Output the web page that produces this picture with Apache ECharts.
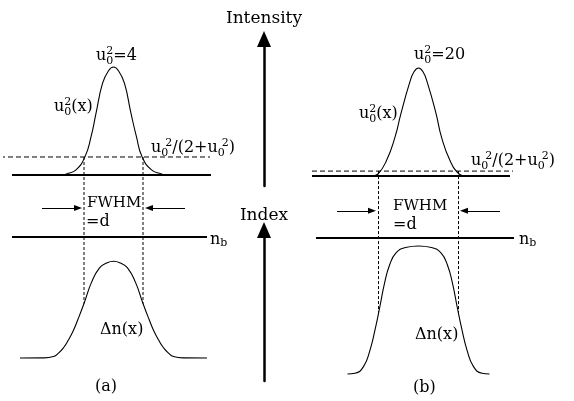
<!DOCTYPE html>
<html>
<head>
<meta charset="utf-8">
<script src="https://cdn.jsdelivr.net/npm/echarts@6/dist/echarts.min.js"></script>
<style>
  html, body { margin: 0; padding: 0; background: #fff; }
  #chart { width: 574px; height: 401px; }
</style>
</head>
<body>
<div id="chart"></div>
<script>
// Transverse position x (arbitrary units) paired with the quantity on each panel.
// (a) beam intensity u0^2(x) for peak u0^2 = 4
const intensityA = [
  [-5.0, 0], [-4.7, 0.04], [-3.75, 0.19], [-2.85, 0.68], [-2.25, 1.41], [-1.75, 2.28],
  [-1.1, 3.39], [-0.5, 3.86], [0, 4], [0.5, 3.86], [1.1, 3.39], [1.75, 2.28],
  [2.3, 1.41], [2.85, 0.68], [3.8, 0.19], [4.8, 0.04], [5.1, 0]
];
// (a) induced index change Δn(x), background index n_b = 1
const indexA = [
  [-9.35, 0], [-7, 0.001], [-6, 0.012], [-5.5, 0.04], [-5, 0.085], [-4.5, 0.15],
  [-4, 0.23], [-3.55, 0.32], [-2.95, 0.45], [-2.2, 0.625], [-1.4, 0.745], [-0.7, 0.785],
  [0, 0.8], [0.7, 0.785], [1.4, 0.745], [2.2, 0.625], [2.95, 0.45], [3.55, 0.32],
  [4, 0.23], [4.5, 0.15], [5, 0.085], [5.5, 0.04], [6, 0.012], [7, 0.001], [9.35, 0]
];
// (b) beam intensity u0^2(x) for peak u0^2 = 20
const intensityB = [
  [-4.6, 0], [-4.05, 0.37], [-3.2, 2.86], [-2.35, 7.2], [-1.75, 11.6], [-0.9, 17.2],
  [-0.45, 19.3], [0, 20], [0.45, 19.3], [0.9, 17.2], [1.75, 11.6], [2.3, 7.2],
  [3.15, 2.86], [4.05, 0.37], [4.6, 0]
];
// (b) induced index change Δn(x): saturated, flat-topped profile
const indexB = [
  [-7.1, 0], [-6.35, 0.005], [-5.5, 0.054], [-4.85, 0.176], [-4.35, 0.324], [-3.85, 0.5],
  [-3.4, 0.667], [-2.9, 0.8], [-2.25, 0.89], [-1.3, 0.93], [0, 0.941], [1.3, 0.93],
  [2.25, 0.89], [2.9, 0.8], [3.4, 0.667], [3.85, 0.5], [4.35, 0.324], [4.85, 0.176],
  [5.5, 0.054], [6.35, 0.005], [7.1, 0]
];
// Threshold level u0^2/(2+u0^2) for each peak intensity
const thresholdA = [0.667];
const thresholdB = [0.909];
// Background index
const backgroundIndex = [1];
// FWHM edges of Δn(x) and the half-maximum index value there
const fwhmEdgesA = [-2.95, 2.95];
const fwhmEdgesB = [-4.0, 4.0];
const halfIndex = [0.45, 0.45];

const FONT = 'DejaVu Serif';
const INK = '#000';

const el = document.getElementById('chart');
const chart = echarts.init(el, null, { renderer: 'canvas' });

function flat(y, x0, x1) { return [[x0, y], [x1, y]]; }

function curve(name, data, g, width) {
  return {
    name, type: 'line', xAxisIndex: g, yAxisIndex: g, data,
    smooth: 0.5, symbol: 'none', clip: false, silent: true,
    lineStyle: { color: INK, width: width || 1.1 }
  };
}
function rule(name, data, g, width, dash) {
  return {
    name, type: 'line', xAxisIndex: g, yAxisIndex: g, data,
    symbol: 'none', clip: false, silent: true,
    lineStyle: { color: INK, width, type: dash || 'solid' }
  };
}
// FWHM pointers: short lines with a small arrowhead toward the profile edge
function arrows(y, pairs) {
  return {
    silent: true, symbol: ['none', 'triangle'], symbolSize: [6, 8],
    label: { show: false },
    lineStyle: { color: INK, width: 1, type: 'solid' },
    itemStyle: { color: INK },
    emphasis: { disabled: true },
    data: pairs.map(p => [{ coord: [p[0], y] }, { coord: [p[1], y] }])
  };
}

const hiddenX = (min, max) => ({ type: 'value', min, max, show: false });
const hiddenY = (min, max) => ({ type: 'value', min, max, show: false });

function arrowAxis(name, gap) {
  return {
    type: 'value', min: 0, max: 1, position: 'left',
    name, nameLocation: 'end', nameGap: gap,
    nameTextStyle: { fontFamily: FONT, fontSize: 17, color: INK },
    axisLine: {
      show: true, onZero: false, symbol: ['none', 'triangle'], symbolSize: [14, 16],
      lineStyle: { color: INK, width: 2.5 }
    },
    axisTick: { show: false }, axisLabel: { show: false }, splitLine: { show: false }
  };
}

const gridBase = { outerBoundsMode: 'none', containLabel: false };

const nbA = rule('n_b (a)', flat(backgroundIndex[0], -10.15, 9.35), 1, 2);
nbA.markLine = arrows(1.24, [[-7.15, -3.55], [7.15, 3.55]]);
const nbB = rule('n_b (b)', flat(backgroundIndex[0], -10.25, 9.55), 3, 2);
nbB.markLine = arrows(1.2, [[-8.15, -4.65], [8.15, 4.55]]);

// Index panels span 0..1.35 so the FWHM pointers above n_b stay inside the axis range
const option = {
  animation: false,
  backgroundColor: '#fff',
  grid: [
    Object.assign({ left: 3.5, width: 230, top: 67, height: 108 }, gridBase),
    Object.assign({ left: 3.5, width: 230, top: 194.65, height: 163.35 }, gridBase),
    Object.assign({ left: 298.5, width: 240, top: 68, height: 108 }, gridBase),
    Object.assign({ left: 298.5, width: 240, top: 190.4, height: 183.6 }, gridBase),
    Object.assign({ left: 264, width: 1, top: 39, height: 147 }, gridBase),
    Object.assign({ left: 264, width: 1, top: 230, height: 151 }, gridBase)
  ],
  xAxis: [
    Object.assign(hiddenX(-11, 12), { gridIndex: 0 }),
    Object.assign(hiddenX(-11, 12), { gridIndex: 1 }),
    Object.assign(hiddenX(-12, 12), { gridIndex: 2 }),
    Object.assign(hiddenX(-12, 12), { gridIndex: 3 }),
    Object.assign(hiddenX(0, 1), { gridIndex: 4 }),
    Object.assign(hiddenX(0, 1), { gridIndex: 5 })
  ],
  yAxis: [
    Object.assign(hiddenY(0, 4), { gridIndex: 0 }),
    Object.assign(hiddenY(0, 1.35), { gridIndex: 1 }),
    Object.assign(hiddenY(0, 20), { gridIndex: 2 }),
    Object.assign(hiddenY(0, 1.35), { gridIndex: 3 }),
    Object.assign(arrowAxis('Intensity', 12), { gridIndex: 4 }),
    Object.assign(arrowAxis('Index', 6), { gridIndex: 5 })
  ],
  series: [
    curve('u0^2(x) (a)', intensityA, 0),
    rule('baseline (a)', flat(0, -10.15, 9.75), 0, 2.2),
    rule('threshold (a)', flat(thresholdA[0], -11.35, 9.65), 0, 1, [5, 3]),
    curve('Δn(x) (a)', indexA, 1),
    nbA,
    curve('u0^2(x) (b)', intensityB, 2),
    rule('baseline (b)', flat(0, -10.65, 9.15), 2, 2.2),
    rule('threshold (b)', flat(thresholdB[0], -10.65, 9.45), 2, 1, [5, 3]),
    curve('Δn(x) (b)', indexB, 3),
    nbB
  ]
};
chart.setOption(option);

// Text annotations with sub/superscripts
const rich = {
  m: { fontFamily: FONT, fontSize: 16, fill: INK },
  f: { fontFamily: FONT, fontSize: 15, fill: INK },
  lo: { fontFamily: FONT, fontSize: 11, fill: INK, padding: [10, 0, 0, 0], width: 0 },
  lo2: { fontFamily: FONT, fontSize: 11, fill: INK, padding: [10, 0, 0, 0], width: 4 },
  hi: { fontFamily: FONT, fontSize: 11, fill: INK, padding: [0, 0, 10, 0] },
  sb: { fontFamily: FONT, fontSize: 11, fill: INK, padding: [7, 0, 0, 0] }
};
function text(x, y, t) {
  return {
    type: 'text', x, y, silent: true, z: 10,
    style: { text: t, rich, fontFamily: FONT, fontSize: 16, fill: INK,
             textAlign: 'left', textVerticalAlign: 'middle' }
  };
}
const U = '{m|u}{lo|0}{hi|2}';
const U2 = '{m|u}{lo2|0}{hi|2}';
const graphics = [
  text(96, 56, U + '{m|=4}'),
  text(54, 107, U + '{m|(x)}'),
  text(151, 148, U2 + '{m|/(2+}' + U2 + '{m|)}'),
  text(87, 203, '{f|FWHM}'),
  text(86, 222, '{m|=d}'),
  text(210, 240, '{m|n}{sb|b}'),
  text(100, 330, '{m|Δn(x)}'),
  text(95, 387, '{m|(a)}'),
  text(414, 55, U + '{m|=20}'),
  text(359, 114, U + '{m|(x)}'),
  text(471, 161, U2 + '{m|/(2+}' + U2 + '{m|)}'),
  text(393, 206, '{f|FWHM}'),
  text(393, 225, '{m|=d}'),
  text(519, 240, '{m|n}{sb|b}'),
  text(415, 335, '{m|Δn(x)}'),
  text(413, 388, '{m|(b)}')
];

// Vertical guides: from the intensity threshold crossing down to the half-maximum of Δn
function guide(gTop, gBot, x, yTop, yBot) {
  const p1 = chart.convertToPixel({ gridIndex: gTop }, [x, yTop]);
  const p2 = chart.convertToPixel({ gridIndex: gBot }, [x, yBot]);
  return {
    type: 'line', silent: true, z: 5,
    shape: { x1: p1[0], y1: p1[1], x2: p2[0], y2: p2[1] },
    style: { stroke: INK, lineWidth: 1, lineDash: [3, 2] }
  };
}
fwhmEdgesA.forEach(x => graphics.push(guide(0, 1, x, thresholdA[0], halfIndex[0])));
fwhmEdgesB.forEach(x => graphics.push(guide(2, 3, x, thresholdB[0], halfIndex[1])));

chart.setOption({ graphic: graphics });
</script>
</body>
</html>
